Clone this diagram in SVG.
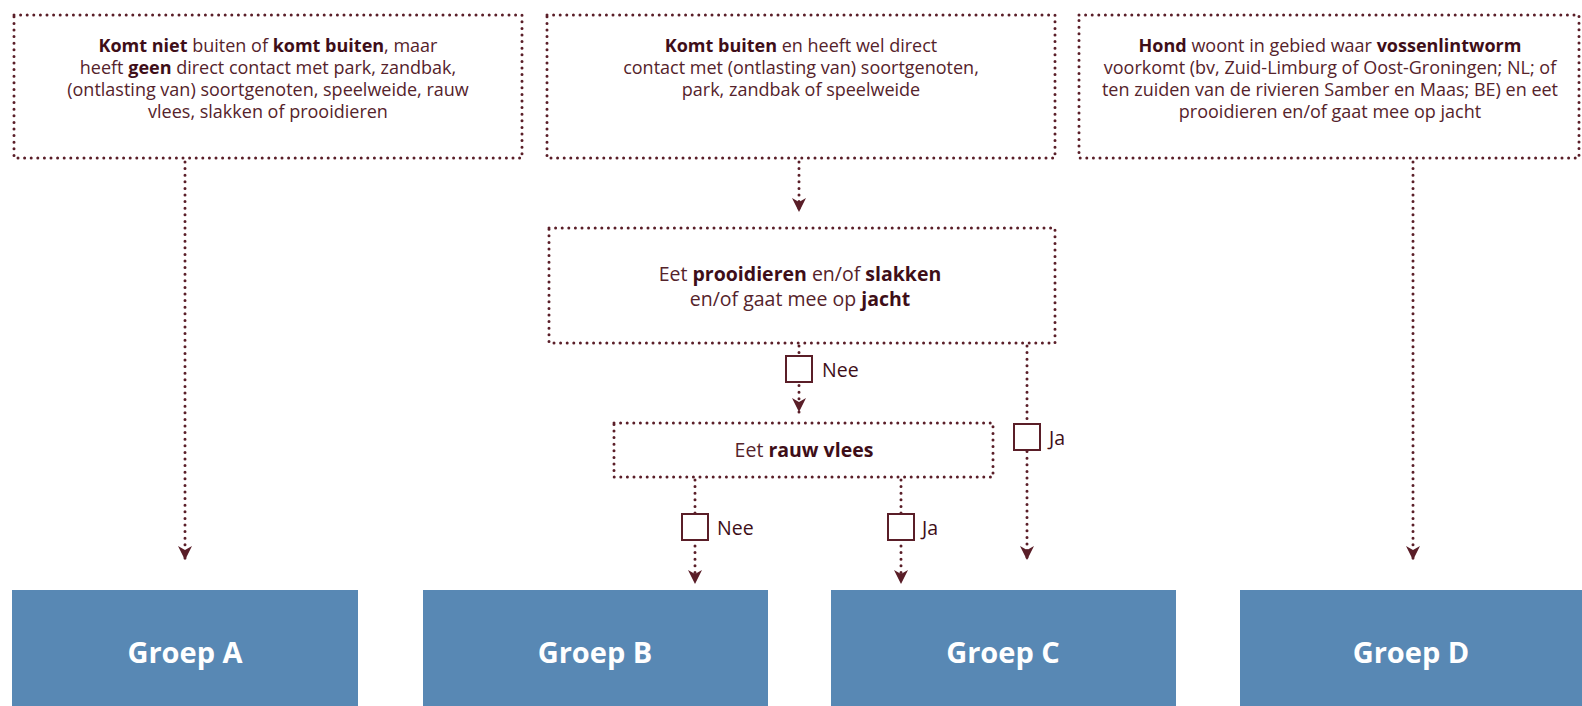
<svg xmlns="http://www.w3.org/2000/svg" width="1582" height="706" viewBox="0 0 1582 706">
<style>
.dbox{fill:#fff;stroke:#5a1e28;stroke-width:3;stroke-linecap:round;stroke-dasharray:0 6.6}
.con{fill:none;stroke:#5a1e28;stroke-width:3;stroke-linecap:round;stroke-dasharray:0 6.6}
.t{font-family:"Open Sans","Noto Sans","Liberation Sans",sans-serif;font-size:18px;fill:#55232b;text-anchor:middle}
.t tspan.b,.b{font-weight:bold;fill:#3e0e18}
.grp{fill:#5888b4}
.gt{font-family:"Open Sans","Noto Sans","Liberation Sans",sans-serif;font-size:29px;font-weight:bold;fill:#fff;text-anchor:middle}
.cb{fill:#fff;stroke:#5a1e28;stroke-width:2}
.lbl{font-family:"Open Sans","Noto Sans","Liberation Sans",sans-serif;font-size:19.5px;fill:#3e0e18}
</style>
<defs>
<marker id="ah" markerUnits="userSpaceOnUse" markerWidth="16" markerHeight="16" refX="14" refY="7" orient="auto">
<path d="M0,0 L14,7 L0,14 L4,7 Z" fill="#5a1e28"/>
</marker>
</defs>

<g id="connectors">
<path class="con" d="M185,162 V560" marker-end="url(#ah)"/>
<path class="con" d="M799,162 V212" marker-end="url(#ah)"/>
<path class="con" d="M1413,162 V560" marker-end="url(#ah)"/>
<path class="con" d="M799,346 V412" marker-end="url(#ah)"/>
<path class="con" d="M1027,346 V560" marker-end="url(#ah)"/>
<path class="con" d="M695,480 V584" marker-end="url(#ah)"/>
<path class="con" d="M901,480 V584" marker-end="url(#ah)"/>
</g>

<g id="node-box1">
<rect class="dbox" x="14" y="15" width="508" height="143"/>
<text class="t" x="268" y="52"><tspan class="b">Komt niet</tspan> buiten of <tspan class="b">komt buiten</tspan>, maar</text>
<text class="t" x="268" y="74">heeft <tspan class="b">geen</tspan> direct contact met park, zandbak,</text>
<text class="t" x="268" y="96">(ontlasting van) soortgenoten, speelweide, rauw</text>
<text class="t" x="268" y="118">vlees, slakken of prooidieren</text>
</g>

<g id="node-box2">
<rect class="dbox" x="547" y="15" width="508" height="143"/>
<text class="t" x="801" y="52"><tspan class="b">Komt buiten</tspan> en heeft wel direct</text>
<text class="t" x="801" y="74">contact met (ontlasting van) soortgenoten,</text>
<text class="t" x="801" y="96">park, zandbak of speelweide</text>
</g>

<g id="node-box3">
<rect class="dbox" x="1079" y="15" width="500" height="143"/>
<text class="t" x="1330" y="52"><tspan class="b">Hond</tspan> woont in gebied waar <tspan class="b">vossenlintworm</tspan></text>
<text class="t" x="1330" y="74">voorkomt (bv, Zuid-Limburg of Oost-Groningen; NL; of</text>
<text class="t" x="1330" y="96">ten zuiden van de rivieren Samber en Maas; BE) en eet</text>
<text class="t" x="1330" y="118">prooidieren en/of gaat mee op jacht</text>
</g>

<g id="node-prooi">
<rect class="dbox" x="549" y="228" width="506" height="115"/>
<text class="t" x="800" y="281" style="font-size:19.5px">Eet <tspan class="b">prooidieren</tspan> en/of <tspan class="b">slakken</tspan></text>
<text class="t" x="800" y="306" style="font-size:19.5px">en/of gaat mee op <tspan class="b">jacht</tspan></text>
</g>

<g id="node-rauw">
<rect class="dbox" x="614" y="423" width="379" height="54"/>
<text class="t" x="804" y="457" style="font-size:19.5px">Eet <tspan class="b">rauw vlees</tspan></text>
</g>

<g id="labels">
<rect class="cb" x="786" y="356" width="26" height="26"/>
<text class="lbl" x="822" y="377">Nee</text>
<rect class="cb" x="1014" y="424" width="26" height="26"/>
<text class="lbl" x="1049" y="445">Ja</text>
<rect class="cb" x="682" y="514" width="26" height="26"/>
<text class="lbl" x="717" y="535">Nee</text>
<rect class="cb" x="888" y="514" width="26" height="26"/>
<text class="lbl" x="922" y="535">Ja</text>
</g>

<g id="node-groepA"><rect class="grp" x="12" y="590" width="346" height="116"/><text class="gt" x="185" y="663">Groep A</text></g>
<g id="node-groepB"><rect class="grp" x="423" y="590" width="345" height="116"/><text class="gt" x="595" y="663">Groep B</text></g>
<g id="node-groepC"><rect class="grp" x="831" y="590" width="345" height="116"/><text class="gt" x="1003" y="663">Groep C</text></g>
<g id="node-groepD"><rect class="grp" x="1240" y="590" width="342" height="116"/><text class="gt" x="1411" y="663">Groep D</text></g>
</svg>
